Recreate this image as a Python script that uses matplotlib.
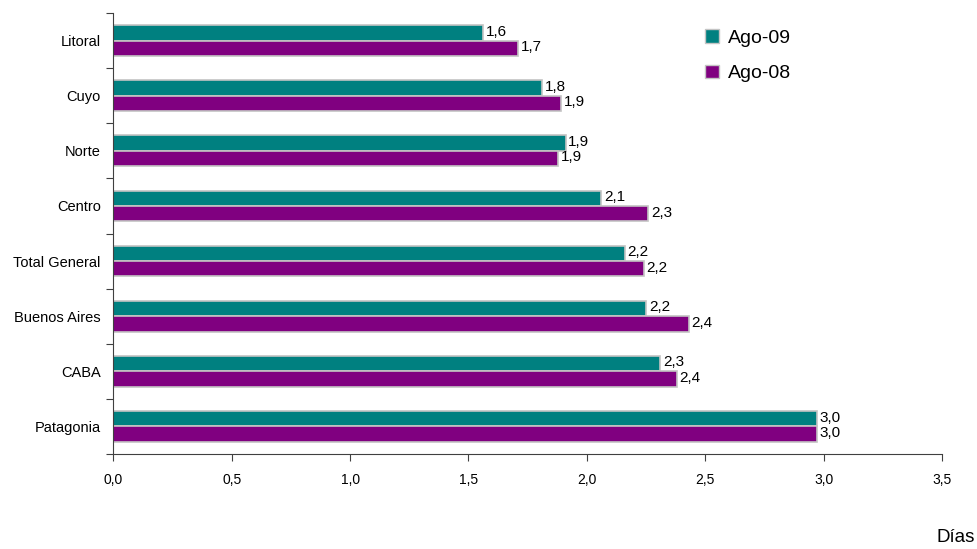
import numpy as np
import matplotlib
matplotlib.use("Agg")
import matplotlib.pyplot as plt
from matplotlib.patches import Patch

plt.rcParams['font.family'] = ['Liberation Sans', 'DejaVu Sans']

# Data
regiones = ["Litoral", "Cuyo", "Norte", "Centro", "Total General",
            "Buenos Aires", "CABA", "Patagonia"]
ago09 = [1.56, 1.81, 1.91, 2.06, 2.16, 2.25, 2.31, 2.97]
ago08 = [1.71, 1.89, 1.88, 2.26, 2.24, 2.43, 2.38, 2.97]
x_ticks = [0, 0.5, 1.0, 1.5, 2.0, 2.5, 3.0, 3.5]

TEAL = "#008080"
PURPLE = "#800080"
EDGE = "#c4c4c4"

fig = plt.figure(figsize=(9.78, 5.49), dpi=100)
ax = fig.add_axes([113.3 / 978, 1 - 454 / 549, (942 - 113.3) / 978, (454 - 13) / 549])

y = np.arange(len(regiones))
h = 0.28
b1 = ax.barh(y - h / 2, ago09, height=h, color=TEAL, edgecolor=EDGE, linewidth=1.2)
b2 = ax.barh(y + h / 2, ago08, height=h, color=PURPLE, edgecolor=EDGE, linewidth=1.2)

def fmt(v):
    return f"{v:.1f}".replace(".", ",")

for bars, vals in ((b1, ago09), (b2, ago08)):
    for bar, v in zip(bars, vals):
        ax.text(bar.get_width() + 0.012, bar.get_y() + bar.get_height() / 2 - 0.02,
                fmt(v), va="center", ha="left", fontsize=11)

ax.set_xlim(0, 3.5)
ax.set_ylim(len(regiones) - 0.5, -0.5)
ax.set_xticks(x_ticks)
ax.set_xticklabels([fmt(t) for t in x_ticks], fontsize=10)
ax.tick_params(axis="x", length=5, pad=9, color="#404040")

ax.set_yticks(np.arange(-0.5, len(regiones)), minor=False)
ax.set_yticklabels([])
ax.set_yticks(y, minor=True)
ax.set_yticklabels(regiones, minor=True, fontsize=10.5)
ax.tick_params(axis="y", which="major", length=5, color="#404040")
ax.tick_params(axis="y", which="minor", length=0, pad=9)

for s in ("top", "right"):
    ax.spines[s].set_visible(False)
for s in ("left", "bottom"):
    ax.spines[s].set_color("#404040")

handles = [Patch(facecolor=TEAL, edgecolor=EDGE, label="Ago-09"),
           Patch(facecolor=PURPLE, edgecolor=EDGE, label="Ago-08")]
fig.legend(handles=handles, loc="upper left", bbox_to_anchor=(688 / 978, 1 - 12 / 549),
           frameon=False, fontsize=14, handlelength=0.7, handleheight=0.7,
           handletextpad=0.45, labelspacing=0.9)

fig.text(956 / 978, 1 - 538 / 549, "Días", ha="center", va="center", fontsize=13.5)

fig.savefig("out.png", dpi=100)
